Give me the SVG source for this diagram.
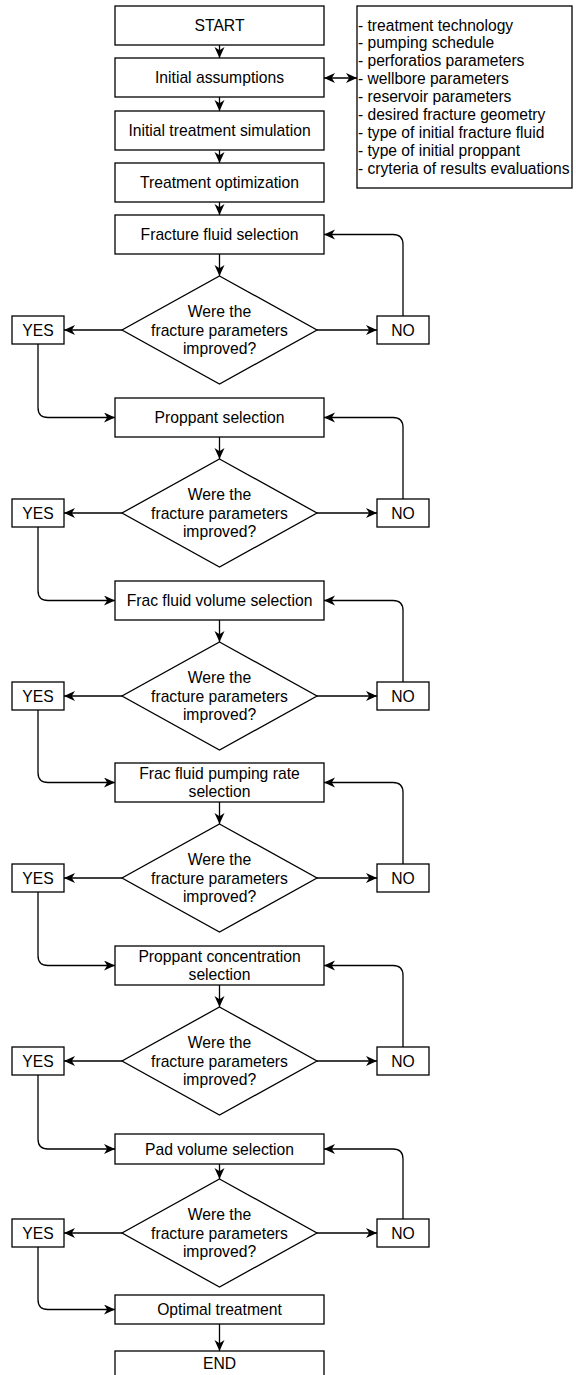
<svg xmlns="http://www.w3.org/2000/svg" width="576" height="1375" viewBox="0 0 576 1375">
<style>
.n{fill:#fff;stroke:#000;stroke-width:1.3}
.t{font-family:"Liberation Sans",Arial,sans-serif;font-size:15.7px;fill:#000;text-anchor:middle}
.l{font-family:"Liberation Sans",Arial,sans-serif;font-size:15.6px;fill:#000}
.c{fill:none;stroke:#000;stroke-width:1.3}
.a{marker-end:url(#ah)}
</style>
<defs>
<marker id="ah" markerUnits="userSpaceOnUse" markerWidth="12" markerHeight="11" refX="11" refY="5" orient="auto-start-reverse" viewBox="0 0 12 11">
<path d="M0,0 L11,5 L0,10 L3.2,5 Z" fill="#000"/>
</marker>
</defs>
<rect width="576" height="1375" fill="#fff"/>
<g id="connectors">
<path class="c a" d="M219.5,45 V58"/>
<path class="c a" d="M219.5,97 V111"/>
<path class="c a" d="M219.5,150 V163"/>
<path class="c a" d="M219.5,202 V215"/>
<path class="c" d="M324,78 H357" marker-start="url(#ah)" marker-end="url(#ah)"/>
<path class="c a" d="M219.5,254 V276"/>
<path class="c a" d="M122,330 H64"/>
<path class="c a" d="M317,330 H377"/>
<path class="c a" d="M403,316 V244.5 Q403,234.5 393,234.5 H324"/>
<path class="c a" d="M38,344 V407.5 Q38,417.5 48,417.5 H115"/>
<path class="c a" d="M219.5,437 V459"/>
<path class="c a" d="M122,513 H64"/>
<path class="c a" d="M317,513 H377"/>
<path class="c a" d="M403,499 V427.5 Q403,417.5 393,417.5 H324"/>
<path class="c a" d="M38,527 V590.5 Q38,600.5 48,600.5 H115"/>
<path class="c a" d="M219.5,620 V642"/>
<path class="c a" d="M122,696 H64"/>
<path class="c a" d="M317,696 H377"/>
<path class="c a" d="M403,682 V610.5 Q403,600.5 393,600.5 H324"/>
<path class="c a" d="M38,710 V772.5 Q38,782.5 48,782.5 H115"/>
<path class="c a" d="M219.5,802 V824"/>
<path class="c a" d="M122,878 H64"/>
<path class="c a" d="M317,878 H377"/>
<path class="c a" d="M403,864 V792.5 Q403,782.5 393,782.5 H324"/>
<path class="c a" d="M38,892 V955.5 Q38,965.5 48,965.5 H115"/>
<path class="c a" d="M219.5,985 V1007"/>
<path class="c a" d="M122,1061 H64"/>
<path class="c a" d="M317,1061 H377"/>
<path class="c a" d="M403,1047 V975.5 Q403,965.5 393,965.5 H324"/>
<path class="c a" d="M38,1075 V1139 Q38,1149 48,1149 H115"/>
<path class="c a" d="M219.5,1164 V1179"/>
<path class="c a" d="M122,1233 H64"/>
<path class="c a" d="M317,1233 H377"/>
<path class="c a" d="M403,1219 V1159 Q403,1149 393,1149 H324"/>
<path class="c a" d="M38,1247 V1299.5 Q38,1309.5 48,1309.5 H115"/>
<path class="c a" d="M219.5,1324 V1351"/>
</g>
<g id="start"><rect class="n" x="115" y="6" width="209" height="39"/><text class="t" x="219.5" y="31">START</text></g>
<g id="initial-assumptions"><rect class="n" x="115" y="58" width="209" height="39"/><text class="t" x="219.5" y="83">Initial assumptions</text></g>
<g id="assumption-list"><rect class="n" x="357" y="6" width="215" height="182"/>
<text class="l" x="358" y="30.5">- treatment technology</text>
<text class="l" x="358" y="48.4">- pumping schedule</text>
<text class="l" x="358" y="66.3">- perforatios parameters</text>
<text class="l" x="358" y="84.2">- wellbore parameters</text>
<text class="l" x="358" y="102.1">- reservoir parameters</text>
<text class="l" x="358" y="120">- desired fracture geometry</text>
<text class="l" x="358" y="137.9">- type of initial fracture fluid</text>
<text class="l" x="358" y="155.8">- type of initial proppant</text>
<text class="l" x="358" y="173.7">- cryteria of results evaluations</text>
</g>
<g id="initial-simulation"><rect class="n" x="115" y="111" width="209" height="39"/><text class="t" x="219.5" y="136">Initial treatment simulation</text></g>
<g id="treatment-optimization"><rect class="n" x="115" y="163" width="209" height="39"/><text class="t" x="219.5" y="188">Treatment optimization</text></g>

<g id="fluid-selection"><rect class="n" x="115" y="215" width="209" height="39"/><text class="t" x="219.5" y="240">Fracture fluid selection</text></g>
<g id="decision1"><path class="n" d="M219.5,276 L317,330 L219.5,384 L122,330 Z"/><text class="t" x="219.5" y="317">Were the</text><text class="t" x="219.5" y="335.5">fracture parameters</text><text class="t" x="219.5" y="353.8">improved?</text></g>
<g id="yes1"><rect class="n" x="12" y="316" width="52" height="28"/><text class="t" x="38" y="335.5">YES</text></g>
<g id="no1"><rect class="n" x="377" y="316" width="52" height="28"/><text class="t" x="403" y="335.5">NO</text></g>

<g id="proppant-selection"><rect class="n" x="115" y="398" width="209" height="39"/><text class="t" x="219.5" y="423">Proppant selection</text></g>
<g id="decision2"><path class="n" d="M219.5,459 L317,513 L219.5,567 L122,513 Z"/><text class="t" x="219.5" y="500">Were the</text><text class="t" x="219.5" y="518.5">fracture parameters</text><text class="t" x="219.5" y="536.8">improved?</text></g>
<g id="yes2"><rect class="n" x="12" y="499" width="52" height="28"/><text class="t" x="38" y="518.5">YES</text></g>
<g id="no2"><rect class="n" x="377" y="499" width="52" height="28"/><text class="t" x="403" y="518.5">NO</text></g>

<g id="volume-selection"><rect class="n" x="115" y="581" width="209" height="39"/><text class="t" x="219.5" y="606">Frac fluid volume selection</text></g>
<g id="decision3"><path class="n" d="M219.5,642 L317,696 L219.5,750 L122,696 Z"/><text class="t" x="219.5" y="683">Were the</text><text class="t" x="219.5" y="701.5">fracture parameters</text><text class="t" x="219.5" y="719.8">improved?</text></g>
<g id="yes3"><rect class="n" x="12" y="682" width="52" height="28"/><text class="t" x="38" y="701.5">YES</text></g>
<g id="no3"><rect class="n" x="377" y="682" width="52" height="28"/><text class="t" x="403" y="701.5">NO</text></g>

<g id="rate-selection"><rect class="n" x="115" y="763" width="209" height="39"/><text class="t" x="219.5" y="779">Frac fluid pumping rate</text><text class="t" x="219.5" y="797.3">selection</text></g>
<g id="decision4"><path class="n" d="M219.5,824 L317,878 L219.5,932 L122,878 Z"/><text class="t" x="219.5" y="865">Were the</text><text class="t" x="219.5" y="883.5">fracture parameters</text><text class="t" x="219.5" y="901.8">improved?</text></g>
<g id="yes4"><rect class="n" x="12" y="864" width="52" height="28"/><text class="t" x="38" y="883.5">YES</text></g>
<g id="no4"><rect class="n" x="377" y="864" width="52" height="28"/><text class="t" x="403" y="883.5">NO</text></g>

<g id="concentration-selection"><rect class="n" x="115" y="946" width="209" height="39"/><text class="t" x="219.5" y="962">Proppant concentration</text><text class="t" x="219.5" y="980.3">selection</text></g>
<g id="decision5"><path class="n" d="M219.5,1007 L317,1061 L219.5,1115 L122,1061 Z"/><text class="t" x="219.5" y="1048">Were the</text><text class="t" x="219.5" y="1066.5">fracture parameters</text><text class="t" x="219.5" y="1084.8">improved?</text></g>
<g id="yes5"><rect class="n" x="12" y="1047" width="52" height="28"/><text class="t" x="38" y="1066.5">YES</text></g>
<g id="no5"><rect class="n" x="377" y="1047" width="52" height="28"/><text class="t" x="403" y="1066.5">NO</text></g>

<g id="pad-selection"><rect class="n" x="115" y="1134" width="209" height="30"/><text class="t" x="219.5" y="1154.5">Pad volume selection</text></g>
<g id="decision6"><path class="n" d="M219.5,1179 L317,1233 L219.5,1287 L122,1233 Z"/><text class="t" x="219.5" y="1220">Were the</text><text class="t" x="219.5" y="1238.5">fracture parameters</text><text class="t" x="219.5" y="1256.8">improved?</text></g>
<g id="yes6"><rect class="n" x="12" y="1219" width="52" height="28"/><text class="t" x="38" y="1238.5">YES</text></g>
<g id="no6"><rect class="n" x="377" y="1219" width="52" height="28"/><text class="t" x="403" y="1238.5">NO</text></g>

<g id="optimal-treatment"><rect class="n" x="115" y="1295" width="209" height="29"/><text class="t" x="219.5" y="1315">Optimal treatment</text></g>
<g id="end"><rect class="n" x="115" y="1351" width="209" height="34"/><text class="t" x="219.5" y="1368.5">END</text></g>
</svg>
